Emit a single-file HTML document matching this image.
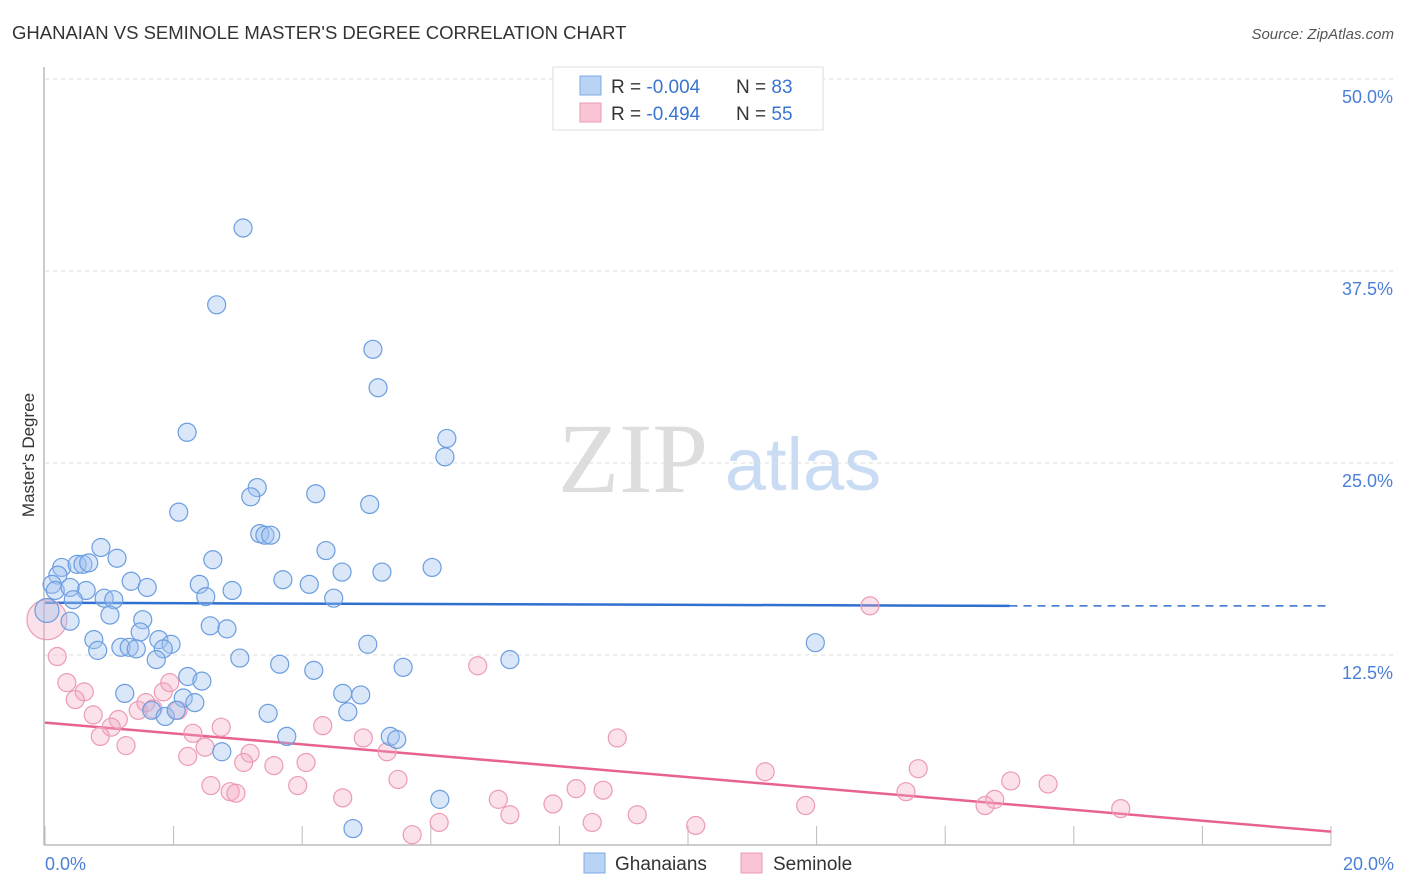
<!DOCTYPE html>
<html><head><meta charset="utf-8">
<style>
body{margin:0;background:#fff;font-family:"Liberation Sans",sans-serif;}
svg{display:block}
</style></head>
<body>
<svg id="chart" width="1406" height="892" xmlns="http://www.w3.org/2000/svg">
<text x="12" y="39" font-size="18.5" fill="#333">GHANAIAN VS SEMINOLE MASTER'S DEGREE CORRELATION CHART</text>
<text x="1394" y="39" font-size="15" fill="#555" font-style="italic" text-anchor="end">Source: ZipAtlas.com</text>
<g>
<text x="633" y="492" font-size="100" fill="#ddd" font-family="Liberation Serif,serif" text-anchor="middle">ZIP</text>
<text x="803" y="490" font-size="74" fill="#c9dcf3" text-anchor="middle">atlas</text>
</g>
<g id="grid"></g>
<g id="axes"></g>
<g id="trend"></g>
<g id="points"></g>
<text transform="translate(34,455) rotate(-90)" font-size="17" fill="#333" text-anchor="middle">Master's Degree</text>
<text x="45" y="870" font-size="18" fill="#4a7fd6">0.0%</text>
<text x="1394" y="870" font-size="18" fill="#4a7fd6" text-anchor="end">20.0%</text>
<g>
<rect x="553" y="67" width="270" height="63" fill="#fff" stroke="#ddd"/>
<rect x="580" y="76" width="21" height="19" fill="#b9d3f5" stroke="#7eaae3"/>
<rect x="580" y="103" width="21" height="19" fill="#f9c5d5" stroke="#eb9ab5"/>
<text x="611" y="93" font-size="19" fill="#333">R = <tspan fill="#3a74d0">-0.004</tspan></text>
<text x="736" y="93" font-size="19" fill="#333">N = <tspan fill="#3a74d0">83</tspan></text>
<text x="611" y="120" font-size="19" fill="#333">R = <tspan fill="#3a74d0"> -0.494</tspan></text>
<text x="736" y="120" font-size="19" fill="#333">N = <tspan fill="#3a74d0">55</tspan></text>
</g>
<g>
<rect x="584" y="853" width="21" height="20" fill="#b9d3f5" stroke="#7eaae3"/>
<text x="615" y="870" font-size="19" fill="#333">Ghanaians</text>
<rect x="741" y="853" width="21" height="20" fill="#f9c5d5" stroke="#eb9ab5"/>
<text x="773" y="870" font-size="19" fill="#333">Seminole</text>
</g>
</svg>
<script>
const yTicks=[12.5,25,37.5,50];
const yTickLabels=["12.5%","25.0%","37.5%","50.0%"];
const xTicks=[0,2,4,6,8,10,12,14,16,18,20];
const blueX=[3.08,2.67,5.10,5.18,2.21,6.25,6.22,3.30,3.20,4.21,5.05,2.08,3.34,3.42,3.51,0.87,4.37,1.12,2.61,6.02,0.26,0.50,0.59,0.68,0.20,4.62,5.24,3.70,4.11,1.34,1.59,2.40,2.91,0.11,0.16,0.64,0.39,2.50,0.92,1.07,0.44,4.49,1.01,1.52,0.39,2.57,2.83,1.48,0.76,1.77,1.96,0.82,1.18,1.31,1.42,1.84,1.73,3.03,5.02,7.23,11.98,3.65,4.18,5.57,2.22,2.44,1.24,2.15,2.33,4.63,4.91,1.66,1.87,2.04,3.47,4.71,3.76,5.37,5.47,2.75,6.14,4.79,0.03];
const blueY=[40.3,35.3,32.4,29.9,27.0,26.6,25.4,23.4,22.8,23.0,22.3,21.8,20.4,20.3,20.3,19.5,19.3,18.8,18.7,18.2,18.2,18.4,18.4,18.5,17.7,17.9,17.9,17.4,17.1,17.3,16.9,17.1,16.7,17.1,16.7,16.7,16.9,16.3,16.2,16.1,16.1,16.2,15.1,14.8,14.7,14.4,14.2,14.0,13.5,13.5,13.2,12.8,13.0,13.0,12.9,12.9,12.2,12.3,13.2,12.2,13.3,11.9,11.5,11.7,11.1,10.8,10.0,9.7,9.4,10.0,9.9,8.9,8.5,8.9,8.7,8.8,7.2,7.2,7.0,6.2,3.1,1.2,15.4];
const pinkX=[12.83,6.73,0.19,0.34,0.61,0.47,1.84,1.94,1.68,0.75,1.14,1.03,1.45,2.07,1.57,2.74,0.86,1.26,2.30,2.49,2.22,3.19,3.09,3.56,4.06,4.32,4.95,5.32,8.90,2.58,2.88,2.97,3.93,4.63,5.49,8.26,8.68,7.05,7.90,7.23,8.51,9.21,10.12,6.13,5.71,11.20,13.58,15.02,15.60,13.39,14.77,14.62,11.83,16.73,0.03];
const pinkY=[15.7,11.8,12.4,10.7,10.1,9.6,10.1,10.7,9.0,8.6,8.3,7.8,8.9,8.9,9.4,7.8,7.2,6.6,7.4,6.5,5.9,6.1,5.5,5.3,5.5,7.9,7.1,6.2,7.1,4.0,3.6,3.5,4.0,3.2,4.4,3.8,3.7,3.1,2.8,2.1,1.6,2.1,1.4,1.6,0.8,4.9,5.1,4.3,4.1,3.6,3.1,2.7,2.7,2.5,14.8];
const blueTrend=[15.9,15.7,15.7]; // at x=0, 15, 20
const pinkTrend=[8.1,1.0]; // at x=0, 20

const NS="http://www.w3.org/2000/svg";
const X=v=>45+v*64.3;
const Y=v=>847-v*15.36;
function mk(tag,attrs,parent){const e=document.createElementNS(NS,tag);for(const k in attrs)e.setAttribute(k,attrs[k]);document.getElementById(parent).appendChild(e);return e;}

yTicks.forEach((t,i)=>{
  const l=mk('line',{x1:45,x2:1393,y1:Y(t),y2:Y(t),stroke:'#ddd','stroke-dasharray':'4,4'},'grid');
  
  
  const tx=mk('text',{x:1393,y:Y(t)+24,'font-size':18,fill:'#4a7fd6','text-anchor':'end'},'grid');
  tx.textContent=yTickLabels[i];
  
  
});
const ax=mk('line',{x1:44,x2:44,y1:67,y2:845,stroke:'#bbb','stroke-width':1.5},'axes');


const bx=mk('line',{x1:44,x2:1331,y1:845,y2:845,stroke:'#bbb','stroke-width':1.5},'axes');


xTicks.forEach(t=>{
  const l=mk('line',{x1:X(t),x2:X(t),y1:826,y2:845,stroke:'#bbb'},'axes');
  
  
});

const b1=mk('line',{x1:X(0),y1:Y(blueTrend[0]),x2:X(15),y2:Y(blueTrend[1]),stroke:'#2f6fd0','stroke-width':2.5},'trend');


const b2=mk('line',{x1:X(15),y1:Y(blueTrend[1]),x2:X(20),y2:Y(blueTrend[2]),stroke:'#2f6fd0','stroke-width':1.5,'stroke-dasharray':'8,6'},'trend');


const p1=mk('line',{x1:X(0),y1:Y(pinkTrend[0]),x2:X(20),y2:Y(pinkTrend[1]),stroke:'#e8628e','stroke-width':2.5},'trend');



pinkX.forEach((x,i)=>{
  const big=i===pinkX.length-1;
  const c=mk('circle',{cx:X(x),cy:Y(pinkY[i]),r:big?20:9,fill:'rgba(244,170,195,0.35)',stroke:'#ec9ab6','stroke-width':1.2},'points');
  
  
});
blueX.forEach((x,i)=>{
  const big=i===blueX.length-1;
  const c=mk('circle',{cx:X(x),cy:Y(blueY[i]),r:big?12:9,fill:'rgba(160,196,240,0.4)',stroke:'#6b9ddf','stroke-width':1.2},'points');
  
  
});
</script>
</body></html>
